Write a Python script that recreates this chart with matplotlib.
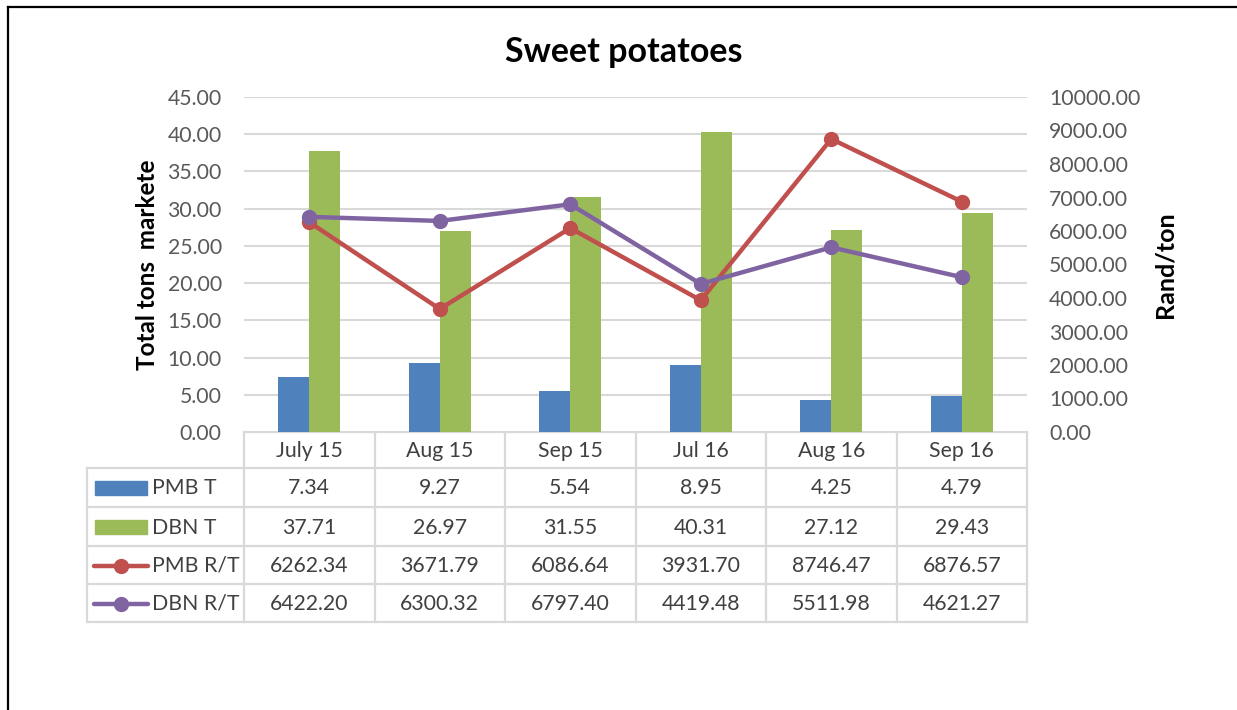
import matplotlib
matplotlib.use("Agg")
import matplotlib.pyplot as plt
from matplotlib.lines import Line2D
from matplotlib.patches import Rectangle
import numpy as np

categories = ["July 15", "Aug 15", "Sep 15", "Jul 16", "Aug 16", "Sep 16"]
pmb_t = [7.34, 9.27, 5.54, 8.95, 4.25, 4.79]
dbn_t = [37.71, 26.97, 31.55, 40.31, 27.12, 29.43]
pmb_rt = [6262.34, 3671.79, 6086.64, 3931.70, 8746.47, 6876.57]
dbn_rt = [6422.20, 6300.32, 6797.40, 4419.48, 5511.98, 4621.27]
series_names = ["PMB T", "DBN T", "PMB R/T", "DBN R/T"]

BLUE = "#4F81BD"
GREEN = "#9BBB59"
RED = "#C0504D"
PURPLE = "#8064A2"
GRID = "#D9D9D9"
TXT = "#595959"
TBL = "#404040"

plt.rcParams['font.family'] = ['Lato', 'DejaVu Sans']

W, H = 1237, 710
fig = plt.figure(figsize=(W / 100, H / 100), dpi=100)

def fx(x):
    return x / W

def fy(y):
    return 1 - y / H

FS = 15.3

# main plot area in pixel coordinates
L, R, T, B = 244, 1027, 97, 432
ax = fig.add_axes([fx(L), fy(B), fx(R - L), (B - T) / H])
x = np.arange(len(categories))
bw = 0.237
ax.bar(x - bw / 2, pmb_t, bw, color=BLUE, zorder=2)
ax.bar(x + bw / 2, dbn_t, bw, color=GREEN, zorder=2)
ax.set_xlim(-0.5, len(categories) - 0.5)
ax.set_ylim(0, 45)
ax.set_yticks(np.arange(0, 46, 5))
ax.set_yticklabels([f"{v:.2f}" for v in np.arange(0, 46, 5)])
ax.yaxis.grid(True, color=GRID, linewidth=1.5, zorder=0)
ax.set_axisbelow(True)
ax.set_xticks([])
for s in ax.spines.values():
    s.set_visible(False)
ax.tick_params(axis='y', length=0, pad=16, labelsize=FS, labelcolor=TXT)
ax.set_ylabel("Total tons  markete", fontsize=17.5, fontweight='bold', color='black', labelpad=6)

ax2 = ax.twinx()
ax2.plot(x, pmb_rt, color=RED, linewidth=3.2, marker='o', markersize=10, zorder=3)
ax2.plot(x, dbn_rt, color=PURPLE, linewidth=3.2, marker='o', markersize=10, zorder=4)
ax2.set_ylim(0, 10000)
ax2.set_yticks(np.arange(0, 10001, 1000))
ax2.set_yticklabels([f"{v:.2f}" for v in np.arange(0, 10001, 1000)])
for s in ax2.spines.values():
    s.set_visible(False)
ax2.tick_params(axis='y', length=0, pad=16, labelsize=FS, labelcolor=TXT)
ax2.set_ylabel("Rand/ton", fontsize=18, fontweight='bold', color='black', labelpad=9)

# Overlay axes in pixel coordinates for the data table and frame
ov = fig.add_axes([0, 0, 1, 1], zorder=-1)
ov.set_xlim(0, W)
ov.set_ylim(H, 0)
ov.axis('off')

fig.canvas.draw()
col_edges = [ax.transData.transform((i - 0.5, 0))[0] for i in range(len(categories) + 1)]
leg_left = 87
row_edges = [432, 468, 507, 546, 584, 622]
lc = "#D9D9D9"
lw = 1.6

for xe in col_edges:
    ov.add_line(Line2D([xe, xe], [row_edges[0], row_edges[-1]], color=lc, lw=lw))
ov.add_line(Line2D([leg_left, leg_left], [row_edges[1], row_edges[-1]], color=lc, lw=lw))
ov.add_line(Line2D([col_edges[0], col_edges[-1]], [row_edges[0], row_edges[0]], color=lc, lw=lw))
for ye in row_edges[1:]:
    ov.add_line(Line2D([leg_left, col_edges[-1]], [ye, ye], color=lc, lw=lw))

for i, c in enumerate(categories):
    cx = (col_edges[i] + col_edges[i + 1]) / 2
    ov.text(cx, (row_edges[0] + row_edges[1]) / 2 + 1, c, ha='center', va='center', fontsize=FS, color=TBL)

rows = [pmb_t, dbn_t, pmb_rt, dbn_rt]
for r, vals in enumerate(rows):
    yc = (row_edges[r + 1] + row_edges[r + 2]) / 2 + 1
    for i, v in enumerate(vals):
        cx = (col_edges[i] + col_edges[i + 1]) / 2
        ov.text(cx, yc, f"{v:.2f}", ha='center', va='center', fontsize=FS, color=TBL)
    if r < 2:
        ov.add_patch(Rectangle((95, yc - 8), 52, 14, color=[BLUE, GREEN][r]))
    else:
        col = [RED, PURPLE][r - 2]
        ov.add_line(Line2D([94, 148], [yc, yc], color=col, lw=3.2, solid_capstyle='round'))
        ov.add_line(Line2D([121], [yc], color=col, marker='o', markersize=10))
    ov.text(152, yc, series_names[r], ha='left', va='center', fontsize=FS, color=TBL)

# outer frame
ov.add_line(Line2D([8, 8], [7, H], color='black', lw=1.6))
ov.add_line(Line2D([8, W], [7, 7], color='black', lw=1.6))

fig.text(fx(624), fy(52), "Sweet potatoes", ha='center', va='center', fontsize=24.5, fontweight='bold', color='black')

fig.savefig("out.png", dpi=100)
